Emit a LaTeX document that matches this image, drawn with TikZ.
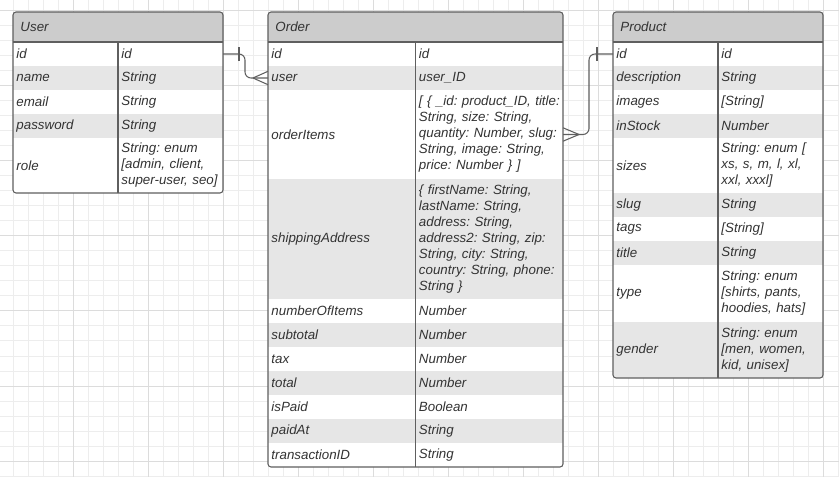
\documentclass[tikz,border=0pt]{standalone}
\usepackage{fontspec}
\setmainfont{Liberation Sans}
\usepackage{tikz}
\definecolor{headgray}{HTML}{CCCCCC}
\definecolor{rowgray}{HTML}{E6E6E6}
\definecolor{inkgray}{HTML}{333333}
\definecolor{linegray}{HTML}{5F5F5F}
\definecolor{gridlight}{HTML}{EDEDED}
\definecolor{griddark}{HTML}{DCDCDC}
\newcommand{\cellfont}{\fontsize{10}{12}\selectfont\itshape\frenchspacing}
\tikzset{
    cell/.style={anchor=north west, inner xsep=2.6pt, inner ysep=0pt, outer sep=0pt, align=left, font=\cellfont, text=inkgray, minimum height=18pt},
    rowlight/.style={cell, fill=white},
    rowdark/.style={cell, fill=rowgray},
    smallcol/.style={text width=73.55pt},
    widecol/.style={text width=105.43pt},
    tablehead/.style={anchor=north west, fill=headgray, inner xsep=5.6pt, inner ysep=0pt, outer sep=0pt, align=left, font=\cellfont, text=inkgray, minimum height=22.5pt},
    tableframe/.style={draw=linegray, line width=0.8pt, rounded corners=2.25pt},
    coldivider/.style={draw=linegray, line width=0.8pt},
    relline/.style={draw=linegray, line width=0.8pt},
    gridminor/.style={draw=gridlight, line width=0.75pt},
    gridmajor/.style={draw=griddark, line width=0.75pt}
}
\begin{document}
\begin{tikzpicture}[x=0.75pt, y=-0.75pt]
\useasboundingbox (0,0) rectangle (839,477);
\fill[white] (0,0) rectangle (839,477);

% Background grid
\foreach \gx in {-1,...,55} \draw[gridminor] (13.33+15*\gx,0) -- (13.33+15*\gx,477);
\foreach \gy in {-1,...,31} \draw[gridminor] (0,11+15*\gy) -- (839,11+15*\gy);
\foreach \gx in {0,...,11} \draw[gridmajor] (-1.67+75*\gx,0) -- (-1.67+75*\gx,477);
\foreach \gy in {0,...,6} \draw[gridmajor] (0,11+75*\gy) -- (839,11+75*\gy);

% User table
\begin{scope}
\clip[rounded corners=2.25pt] (13,12) rectangle (223,193);
\node[tablehead, text width=146.3pt] (u-head) at (13,12) {User};
\node[rowlight, smallcol] (u-id-k) at (13,42) {id};
\node[rowlight, smallcol] (u-id-v) at (118,42) {id};
\node[rowdark, smallcol] (u-name-k) at (13,66) {name};
\node[rowdark, smallcol] (u-name-v) at (118,66) {String};
\node[rowlight, smallcol] (u-email-k) at (13,90) {email};
\node[rowlight, smallcol] (u-email-v) at (118,90) {String};
\node[rowdark, smallcol] (u-pass-k) at (13,114) {password};
\node[rowdark, smallcol] (u-pass-v) at (118,114) {String};
\node[rowlight, smallcol, minimum height=41.25pt] (u-role-k) at (13,138) {role};
\node[rowlight, smallcol, minimum height=41.25pt] (u-role-v) at (118,138) {String: enum\\{[}admin, client,\\super-user, seo{]}};
\end{scope}
\draw[coldivider] (u-head.south west) -- (u-head.south east);
\draw[coldivider] (u-id-v.north west) -- (u-role-v.south west);
\draw[tableframe] (u-head.north west) rectangle (u-role-v.south east);

% Order table
\begin{scope}
\clip[rounded corners=2.25pt] (268,12) rectangle (563,467);
\node[tablehead, text width=210.05pt] (o-head) at (268,12) {Order};
\node[rowlight, widecol] (o-id-k) at (268,42) {id};
\node[rowlight, widecol] (o-id-v) at (415.5,42) {id};
\node[rowdark, widecol] (o-user-k) at (268,66) {user};
\node[rowdark, widecol] (o-user-v) at (415.5,66) {user\_ID};
\node[rowlight, widecol, minimum height=66.75pt] (o-items-k) at (268,90) {orderItems};
\node[rowlight, widecol, minimum height=66.75pt] (o-items-v) at (415.5,90) {\mbox{{[} \{ \_id: product\_ID, title:}\\String, size: String,\\quantity: Number, slug:\\String, image: String,\\price: Number \} {]}};
\node[rowdark, widecol, minimum height=90pt] (o-ship-k) at (268,179) {shippingAddress};
\node[rowdark, widecol, minimum height=90pt] (o-ship-v) at (415.5,179) {\{ firstName: String,\\lastName: String,\\address: String,\\address2: String, zip:\\String, city: String,\\country: String, phone:\\String \}};
\node[rowlight, widecol] (o-count-k) at (268,299) {numberOfItems};
\node[rowlight, widecol] (o-count-v) at (415.5,299) {Number};
\node[rowdark, widecol] (o-sub-k) at (268,323) {subtotal};
\node[rowdark, widecol] (o-sub-v) at (415.5,323) {Number};
\node[rowlight, widecol] (o-tax-k) at (268,347) {tax};
\node[rowlight, widecol] (o-tax-v) at (415.5,347) {Number};
\node[rowdark, widecol] (o-total-k) at (268,371) {total};
\node[rowdark, widecol] (o-total-v) at (415.5,371) {Number};
\node[rowlight, widecol] (o-paid-k) at (268,395) {isPaid};
\node[rowlight, widecol] (o-paid-v) at (415.5,395) {Boolean};
\node[rowdark, widecol] (o-paidat-k) at (268,419) {paidAt};
\node[rowdark, widecol] (o-paidat-v) at (415.5,419) {String};
\node[rowlight, widecol] (o-trans-k) at (268,443) {transactionID};
\node[rowlight, widecol] (o-trans-v) at (415.5,443) {String};
\end{scope}
\draw[coldivider] (o-head.south west) -- (o-head.south east);
\draw[coldivider] (o-id-v.north west) -- (o-trans-v.south west);
\draw[tableframe] (o-head.north west) rectangle (o-trans-v.south east);

% Product table
\begin{scope}
\clip[rounded corners=2.25pt] (613,12) rectangle (823,378);
\node[tablehead, text width=146.3pt] (p-head) at (613,12) {Product};
\node[rowlight, smallcol] (p-id-k) at (613,42) {id};
\node[rowlight, smallcol] (p-id-v) at (718,42) {id};
\node[rowdark, smallcol] (p-desc-k) at (613,66) {description};
\node[rowdark, smallcol] (p-desc-v) at (718,66) {String};
\node[rowlight, smallcol] (p-img-k) at (613,90) {images};
\node[rowlight, smallcol] (p-img-v) at (718,90) {[String]};
\node[rowdark, smallcol] (p-stock-k) at (613,114) {inStock};
\node[rowdark, smallcol] (p-stock-v) at (718,114) {Number};
\node[rowlight, smallcol, minimum height=41.25pt] (p-sizes-k) at (613,138) {sizes};
\node[rowlight, smallcol, minimum height=41.25pt] (p-sizes-v) at (718,138) {String: enum {[}\\xs, s, m, l, xl,\\xxl, xxxl{]}};
\node[rowdark, smallcol] (p-slug-k) at (613,193) {slug};
\node[rowdark, smallcol] (p-slug-v) at (718,193) {String};
\node[rowlight, smallcol] (p-tags-k) at (613,217) {tags};
\node[rowlight, smallcol] (p-tags-v) at (718,217) {[String]};
\node[rowdark, smallcol] (p-title-k) at (613,241) {title};
\node[rowdark, smallcol] (p-title-v) at (718,241) {String};
\node[rowlight, smallcol, minimum height=42.75pt] (p-type-k) at (613,265) {type};
\node[rowlight, smallcol, minimum height=42.75pt] (p-type-v) at (718,265) {String: enum\\{[}shirts, pants,\\hoodies, hats{]}};
\node[rowdark, smallcol, minimum height=42pt] (p-gender-k) at (613,322) {gender};
\node[rowdark, smallcol, minimum height=42pt] (p-gender-v) at (718,322) {String: enum\\{[}men, women,\\kid, unisex{]}};
\end{scope}
\draw[coldivider] (p-head.south west) -- (p-head.south east);
\draw[coldivider] (p-id-v.north west) -- (p-gender-v.south west);
\draw[tableframe] (p-head.north west) rectangle (p-gender-v.south east);

% User one -- many Order
\draw[relline, rounded corners=4.5pt] (u-id-v.east) -- ++(22,0) |- (o-user-k.west);
\draw[relline] (u-id-v.east) ++(16,-6.7) -- ++(0,13.4);
\draw[relline] (o-user-k.west) ++(-15,0) -- ++(15,-6.7) ++(-15,6.7) -- ++(15,6.7);

% Order items many -- one Product
\draw[relline, rounded corners=4.5pt] (o-items-v.east) -- ++(26,0) |- (p-id-k.west);
\draw[relline] (p-id-k.west) ++(-16,-6.7) -- ++(0,13.4);
\draw[relline] (o-items-v.east) ++(16,0) -- ++(-16,-6.7) ++(16,6.7) -- ++(-16,6.7);
\end{tikzpicture}
\end{document}
